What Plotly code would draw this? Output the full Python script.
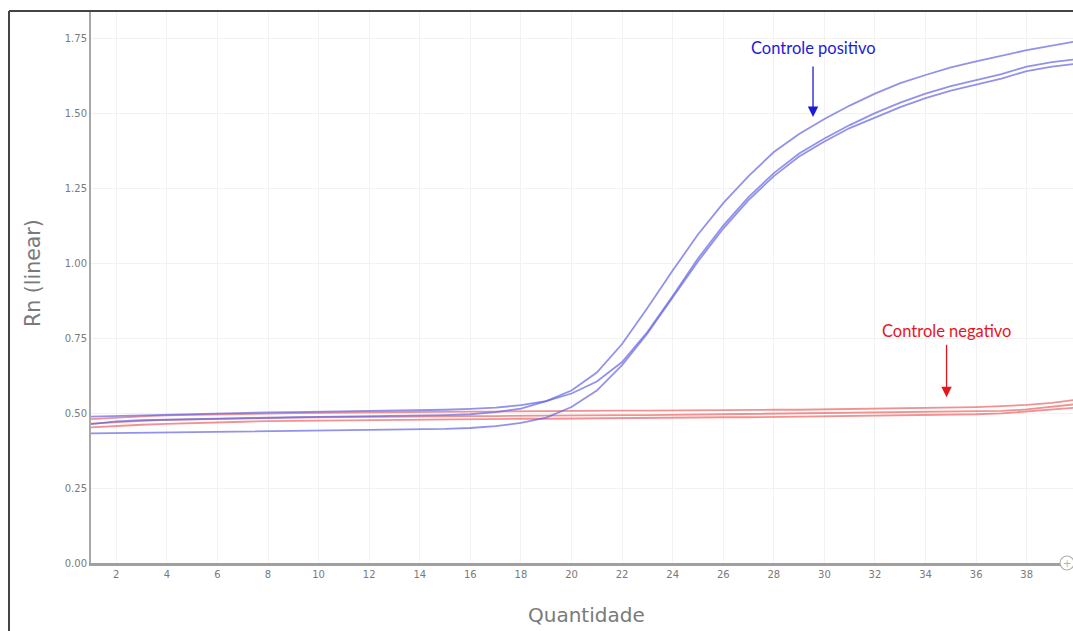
import plotly.graph_objects as go

cycles = list(range(1, 41))

pos_a = [0.488, 0.490, 0.493, 0.496, 0.498, 0.500, 0.501, 0.502, 0.503, 0.504,
         0.505, 0.506, 0.507, 0.509, 0.511, 0.514, 0.518, 0.526, 0.540, 0.565,
         0.605, 0.670, 0.770, 0.890, 1.015, 1.125, 1.220, 1.300, 1.365, 1.415,
         1.460, 1.500, 1.535, 1.565, 1.590, 1.610, 1.630, 1.655, 1.670, 1.680]
pos_b = [0.463, 0.472, 0.476, 0.478, 0.480, 0.482, 0.484, 0.485, 0.486, 0.487,
         0.488, 0.489, 0.490, 0.491, 0.493, 0.496, 0.503, 0.515, 0.540, 0.575,
         0.635, 0.730, 0.850, 0.975, 1.095, 1.200, 1.290, 1.370, 1.430, 1.480,
         1.525, 1.565, 1.600, 1.627, 1.652, 1.672, 1.690, 1.710, 1.725, 1.740]
pos_c = [0.432, 0.433, 0.434, 0.435, 0.436, 0.437, 0.438, 0.439, 0.440, 0.441,
         0.442, 0.443, 0.444, 0.445, 0.447, 0.450, 0.456, 0.467, 0.485, 0.520,
         0.575, 0.660, 0.765, 0.885, 1.005, 1.115, 1.210, 1.290, 1.355, 1.405,
         1.450, 1.485, 1.520, 1.550, 1.575, 1.595, 1.615, 1.640, 1.655, 1.665]

neg_a = [0.480, 0.485, 0.489, 0.492, 0.494, 0.496, 0.498, 0.499, 0.500, 0.501,
         0.502, 0.503, 0.503, 0.504, 0.504, 0.505, 0.505, 0.506, 0.506, 0.507,
         0.507, 0.508, 0.508, 0.509, 0.509, 0.510, 0.510, 0.511, 0.511, 0.512,
         0.513, 0.514, 0.515, 0.517, 0.518, 0.520, 0.523, 0.527, 0.534, 0.545]
neg_b = [0.465, 0.470, 0.474, 0.477, 0.479, 0.481, 0.483, 0.484, 0.485, 0.486,
         0.487, 0.488, 0.488, 0.489, 0.489, 0.490, 0.490, 0.491, 0.491, 0.492,
         0.492, 0.493, 0.493, 0.494, 0.494, 0.495, 0.495, 0.496, 0.497, 0.498,
         0.499, 0.500, 0.501, 0.502, 0.503, 0.505, 0.507, 0.512, 0.520, 0.530]
neg_c = [0.452, 0.457, 0.461, 0.464, 0.467, 0.469, 0.471, 0.473, 0.474, 0.475,
         0.476, 0.477, 0.478, 0.479, 0.479, 0.480, 0.480, 0.481, 0.481, 0.482,
         0.482, 0.483, 0.484, 0.484, 0.485, 0.486, 0.486, 0.487, 0.488, 0.489,
         0.490, 0.491, 0.492, 0.493, 0.494, 0.496, 0.499, 0.505, 0.511, 0.518]

x_ticks = list(range(2, 40, 2))
y_ticks = [0.00, 0.25, 0.50, 0.75, 1.00, 1.25, 1.50, 1.75]

BLUE = "rgba(100,100,225,0.70)"
RED = "rgba(232,90,90,0.66)"

W, H = 1073, 631
ML, MR, MT, MB = 91, 0, 12, 68
PW, PH = W - ML - MR, H - MT - MB


def px_to_paper_x(px):
    return (px - ML) / PW


def py_to_paper_y(py):
    return (H - MB - py) / PH


fig = go.Figure()
for ys in (neg_a, neg_b, neg_c):
    fig.add_trace(go.Scatter(x=cycles, y=ys, mode="lines",
                             line=dict(color=RED, width=1.8), showlegend=False))
for ys in (pos_a, pos_b, pos_c):
    fig.add_trace(go.Scatter(x=cycles, y=ys, mode="lines",
                             line=dict(color=BLUE, width=1.8), showlegend=False))

tickfont = dict(family="DejaVu Sans, sans-serif", size=10, color="#7a7a7a")
titlefont = "DejaVu Sans, sans-serif"

fig.update_layout(
    width=W, height=H,
    margin=dict(l=ML, r=MR, t=MT, b=MB),
    paper_bgcolor="white", plot_bgcolor="white",
    xaxis=dict(range=[1, 39.83], tickvals=x_ticks, tickfont=tickfont,
               showgrid=True, gridcolor="#f2f2f2", gridwidth=1,
               showline=True, linecolor="#a0a0a0", linewidth=3,
               zeroline=False, ticks=""),
    yaxis=dict(range=[0, 1.837], tickvals=y_ticks, tickformat=".2f", tickfont=tickfont,
               showgrid=True, gridcolor="#f2f2f2", gridwidth=1,
               showline=True, linecolor="#a8a8a8", linewidth=2,
               zeroline=False, ticks=""),
)

# Axis titles
fig.add_annotation(xref="paper", yref="paper", x=px_to_paper_x(586), y=py_to_paper_y(615),
                   text="Quantidade", showarrow=False, xanchor="center", yanchor="middle",
                   font=dict(family=titlefont, size=20, color="#7a7a7a"))
fig.add_annotation(xref="paper", yref="paper", x=px_to_paper_x(33), y=py_to_paper_y(273),
                   text="Rn (linear)", showarrow=False, textangle=-90,
                   xanchor="center", yanchor="middle",
                   font=dict(family=titlefont, size=20.5, color="#7a7a7a"))

# Arrows
fig.add_annotation(x=29.55, y=1.487, ax=0, ay=-52, showarrow=True, text="",
                   arrowhead=2, arrowsize=1.6, arrowwidth=1.3, arrowcolor="#1c1cd8",
                   standoff=0)
fig.add_annotation(x=34.83, y=0.553, ax=0, ay=-54, showarrow=True, text="",
                   arrowhead=2, arrowsize=1.6, arrowwidth=1.3, arrowcolor="#e8141c",
                   standoff=0)
fig.add_annotation(x=29.55, y=1.717, showarrow=False, text="Controle positivo",
                   font=dict(family="Lato, sans-serif", size=16.5, color="#1c1cd8"))
fig.add_annotation(x=34.83, y=0.773, showarrow=False, text="Controle negativo",
                   font=dict(family="Lato, sans-serif", size=16.5, color="#e8141c"))

# Outer frame (top and left edges)
fig.add_shape(type="line", xref="paper", yref="paper",
              x0=px_to_paper_x(9), x1=1.0, y0=py_to_paper_y(11), y1=py_to_paper_y(11),
              line=dict(color="#444444", width=2), layer="above")
fig.add_shape(type="line", xref="paper", yref="paper",
              x0=px_to_paper_x(9), x1=px_to_paper_x(9), y0=py_to_paper_y(11), y1=py_to_paper_y(640),
              line=dict(color="#444444", width=2), layer="above")
# zoom handle circle at the end of the x axis
fig.add_shape(type="circle", xref="paper", yref="paper",
              x0=px_to_paper_x(1060), x1=px_to_paper_x(1074),
              y0=py_to_paper_y(570), y1=py_to_paper_y(556),
              line=dict(color="#b0b0b0", width=1.2), fillcolor="white", layer="above")
fig.add_annotation(xref="paper", yref="paper", x=px_to_paper_x(1067), y=py_to_paper_y(563),
                   text="+", showarrow=False, xanchor="center", yanchor="middle",
                   font=dict(family="DejaVu Sans, sans-serif", size=10, color="#b0b0b0"))

fig.write_html("out.html", config={"displayModeBar": False},
               post_script="document.body.style.margin='0px';document.body.style.overflow='hidden';")
